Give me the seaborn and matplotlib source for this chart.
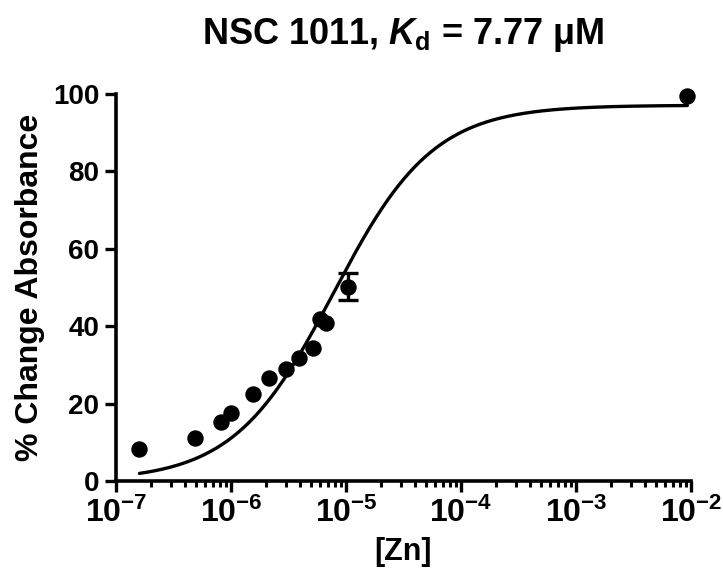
import numpy as np
import pandas as pd
import matplotlib
matplotlib.use("Agg")
import matplotlib.pyplot as plt
import seaborn as sns
from matplotlib.ticker import LogLocator, FixedLocator

# ---- data ----
conc = [1.58e-7, 4.86e-7, 8.2e-7, 1.01e-6, 1.55e-6, 2.14e-6, 3.0e-6,
        3.93e-6, 5.2e-6, 5.94e-6, 6.7e-6, 1.05e-5, 9.3e-3]
pct_change = [8.3, 11.2, 15.2, 17.7, 22.4, 26.7, 29.0,
              31.9, 34.4, 41.8, 40.9, 50.2, 99.6]
err_conc = [1.05e-5]
err_mean = [50.2]
err_sd = [3.5]

# one-site binding fit parameters
kd = 7.77e-6
top = 97.1
fit_start, fit_end = 1.6e-7, 9.3e-3

x_ticks = [1e-7, 1e-6, 1e-5, 1e-4, 1e-3, 1e-2]
x_tick_labels = [r"$\mathbf{10^{-7}}$", r"$\mathbf{10^{-6}}$", r"$\mathbf{10^{-5}}$",
                 r"$\mathbf{10^{-4}}$", r"$\mathbf{10^{-3}}$", r"$\mathbf{10^{-2}}$"]
y_ticks = [0, 20, 40, 60, 80, 100]

sns.set_theme(style="ticks")
plt.rcParams["font.family"] = ["Liberation Sans", "DejaVu Sans"]
plt.rcParams["font.weight"] = "bold"
plt.rcParams["text.color"] = "black"
plt.rcParams["axes.labelcolor"] = "black"
plt.rcParams["xtick.color"] = "black"
plt.rcParams["ytick.color"] = "black"
plt.rcParams["mathtext.fontset"] = "custom"
plt.rcParams["mathtext.rm"] = "Liberation Sans:bold"
plt.rcParams["mathtext.bf"] = "Liberation Sans:bold"
plt.rcParams["mathtext.it"] = "Liberation Sans:bold:italic"

df = pd.DataFrame({"conc": conc, "pct": pct_change})
xf = np.logspace(np.log10(fit_start), np.log10(fit_end), 300)
fit_df = pd.DataFrame({"conc": xf, "pct": top * xf / (kd + xf)})

fig = plt.figure(figsize=(7.23, 5.70), dpi=100)
ax = fig.add_axes([116 / 723, 1 - 481 / 570, 575 / 723, 387 / 570])

sns.lineplot(data=fit_df, x="conc", y="pct", ax=ax, color="black", lw=2.4, zorder=2)
ax.errorbar(err_conc, err_mean, yerr=err_sd, fmt="none", ecolor="black",
            elinewidth=2.4, capsize=7, capthick=2.4, zorder=3)
sns.scatterplot(data=df, x="conc", y="pct", ax=ax, color="black", s=140,
                edgecolor="black", linewidth=0, zorder=4, clip_on=False)

ax.set_xscale("log")
ax.set_xlim(1e-7, 1e-2)
ax.set_ylim(0, 100)
ax.xaxis.set_major_locator(FixedLocator(x_ticks))
ax.set_xticklabels(x_tick_labels)
ax.xaxis.set_minor_locator(LogLocator(base=10, subs=np.arange(2, 10), numticks=20))
ax.set_yticks(y_ticks)
ax.set_yticklabels([str(v) for v in y_ticks])

sns.despine(ax=ax)
for s in ["left", "bottom"]:
    ax.spines[s].set_linewidth(2.6)
    ax.spines[s].set_color("black")
ax.tick_params(axis="both", which="major", direction="out", length=8, width=2.4,
               color="black", labelcolor="black", labelsize=20, pad=4)
ax.tick_params(axis="x", which="minor", direction="out", length=4.5, width=2.2, color="black")
ax.tick_params(axis="y", which="minor", left=False)
ax.tick_params(axis="x", which="major", labelsize=23)
for lab in ax.get_yticklabels():
    lab.set_fontweight("bold")

ax.set_xlabel("[Zn]", fontsize=22, fontweight="bold", labelpad=6, color="black")
ax.set_ylabel("% Change Absorbance", fontsize=23, fontweight="bold", labelpad=6, color="black")
ax.set_title(r"NSC 1011, $K_\mathrm{d}$ = 7.77 $\mathrm{\mu}$M", fontsize=26,
             fontweight="bold", pad=36, color="black")
ax.grid(False)

fig.savefig("out.png", dpi=100)
